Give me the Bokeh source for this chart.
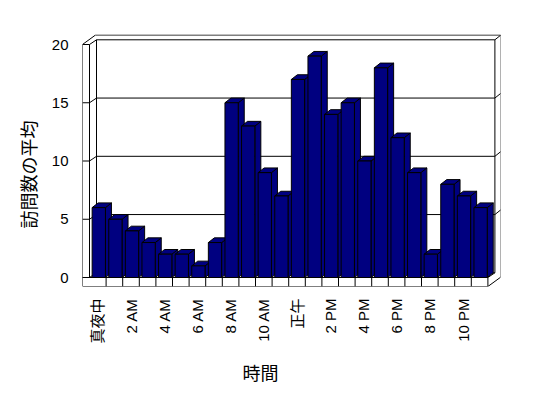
import math
from bokeh.plotting import figure
from bokeh.models import FixedTicker, Title
from bokeh.embed import file_html
from bokeh.resources import INLINE

# ---- data ----
hours = list(range(24))
visits = [6, 5, 4, 3, 2, 2, 1, 3, 15, 13, 9, 7, 17, 19, 14, 15, 10, 18, 12, 9, 2, 8, 7, 6]
tick_hours = [0, 2, 4, 6, 8, 10, 12, 14, 16, 18, 20, 22]
tick_labels = ["真夜中", "2 AM", "4 AM", "6 AM", "8 AM", "10 AM", "正午",
               "2 PM", "4 PM", "6 PM", "8 PM", "10 PM"]
y_ticks = [0, 5, 10, 15, 20]
y_title = "訪問数の平均"
x_title = "時間"

# ---- geometry (pseudo-3D box), in data units ----
SX = 16.6    # px per category
SY = 11.65   # px per value unit
X0, X1 = -0.5, len(hours) - 0.5
YMAX = 20
LW = 7 / SX          # left wall thickness
FT = 9 / SY          # floor thickness
IX, IY = 7 / SX, 4.7 / SY     # depth of inner back wall
OX, OY = 13 / SX, 9.5 / SY    # depth of outer back wall
BL, BR = -0.34, 0.46          # bar front face extents
BDX, BDY = 6 / SX, 4.7 / SY   # bar depth

FL, FTOP = 82, 34
FW, FH = 418, 252
x_start = X0 - LW
x_end = x_start + FW / SX
y_start = -FT
y_end = y_start + FH / SY

p = figure(width=548, height=398, x_range=(x_start, x_end), y_range=(y_start, y_end),
           output_backend="svg", toolbar_location=None,
           min_border_left=FL, min_border_top=FTOP,
           min_border_right=548 - FL - FW, min_border_bottom=398 - FTOP - FH)
p.outline_line_color = None
p.grid.visible = False
p.background_fill_color = "white"
p.border_fill_color = "white"

BLACK = "black"
NAVY = "#000080"

# outer silhouette of box
p.patch([X0 - LW, X1, X1 + OX, X1 + OX, X0 - LW + OX, X0 - LW],
        [-FT, -FT, -FT + OY, YMAX + OY, YMAX + OY, YMAX],
        fill_color="white", line_color=BLACK, line_width=1)
# inner back wall
p.quad(left=[X0 + IX], right=[X1 + IX], bottom=[IY], top=[YMAX + IY],
       fill_color="white", line_color=BLACK, line_width=1)

gx0, gy0, gx1, gy1 = [], [], [], []
for v in y_ticks:
    gx0.append(X0 - LW); gy0.append(v); gx1.append(X0); gy1.append(v)
    gx0.append(X0); gy0.append(v); gx1.append(X0 + IX); gy1.append(v + IY)
    if 0 < v < YMAX:
        gx0.append(X0 + IX); gy0.append(v + IY); gx1.append(X1 + IX); gy1.append(v + IY)
    if v > 0:
        gx0.append(X1 + IX); gy0.append(v + IY); gx1.append(X1 + OX); gy1.append(v + OY)
gx0.append(X0); gy0.append(0); gx1.append(X0); gy1.append(YMAX)
gx0.append(X0 - LW); gy0.append(0); gx1.append(X1); gy1.append(0)
gx0.append(X1); gy0.append(-FT); gx1.append(X1); gy1.append(0)
gx0.append(X1); gy0.append(0); gx1.append(X1 + IX); gy1.append(IY)
for h in hours[:-1]:
    gx0.append(h + 0.5); gy0.append(-FT); gx1.append(h + 0.5); gy1.append(0)
p.segment(x0=gx0, y0=gy0, x1=gx1, y1=gy1, line_color=BLACK, line_width=1)

# bars
sx, sy, tx, ty, fx, fy = [], [], [], [], [], []
for h, v in zip(hours, visits):
    l, r = h + BL, h + BR
    sx.append([r, r + BDX, r + BDX, r]); sy.append([0, BDY, v + BDY, v])
    tx.append([l, r, r + BDX, l + BDX]); ty.append([v, v, v + BDY, v + BDY])
    fx.append([l, r, r, l]); fy.append([0, 0, v, v])
for xs, ys in ((sx, sy), (tx, ty), (fx, fy)):
    p.patches(xs, ys, fill_color=NAVY, line_color=BLACK, line_width=1)

FONT = "'Liberation Sans', 'Noto Sans CJK JP', sans-serif"

yax = p.yaxis[0]
yax.ticker = FixedTicker(ticks=y_ticks)
yax.axis_line_color = None
yax.major_tick_line_color = None
yax.minor_tick_line_color = None
yax.major_tick_out = 0
yax.major_tick_in = 0
yax.major_label_standoff = 14
yax.major_label_text_font = FONT
yax.major_label_text_font_size = "15px"
yax.major_label_text_color = BLACK

xax = p.xaxis[0]
xax.ticker = FixedTicker(ticks=tick_hours)
xax.major_label_overrides = {h: t for h, t in zip(tick_hours, tick_labels)}
xax.axis_line_color = None
xax.major_tick_line_color = None
xax.minor_tick_line_color = None
xax.major_tick_out = 0
xax.major_tick_in = 0
xax.major_label_standoff = 12
xax.major_label_orientation = math.pi / 2
xax.major_label_text_font = FONT
xax.major_label_text_font_size = "15px"
xax.major_label_text_color = BLACK

p.add_layout(Title(text=y_title, align="left", offset=58, standoff=17,
                   text_font=FONT, text_font_size="18px", text_font_style="normal",
                   text_color=BLACK), "left")
p.add_layout(Title(text=x_title, align="left", offset=160, standoff=30,
                   text_font=FONT, text_font_size="18px", text_font_style="normal",
                   text_color=BLACK), "below")

open("out.html", "w").write(file_html(p, INLINE))
